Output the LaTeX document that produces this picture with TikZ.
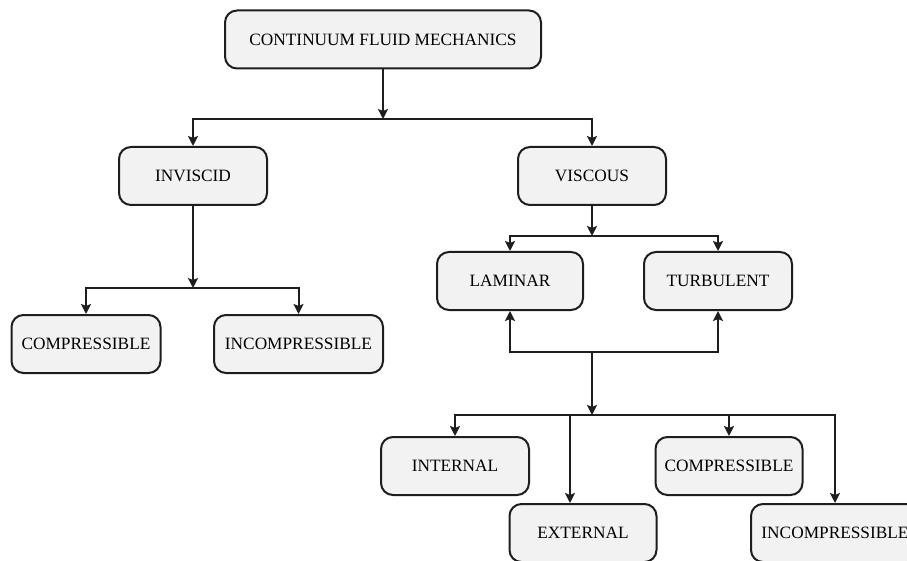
\documentclass[tikz,border=0pt]{standalone}
\usepackage{fontspec}
\setmainfont{Liberation Serif}
\usetikzlibrary{arrows.meta}
\definecolor{boxfill}{RGB}{242,242,242}
\definecolor{edge}{RGB}{30,30,30}
\begin{document}
\begin{tikzpicture}[x=1pt,y=-1pt,
  box/.style={draw=edge, line width=2pt, rounded corners=12pt, fill=boxfill,
    minimum height=58pt, inner sep=0pt, align=center,
    font=\fontsize{17.3}{19}\selectfont},
  conn/.style={draw=edge, line width=2pt},
  arr/.style={conn, -{Stealth[length=10pt,width=10pt,inset=2pt]}}]
\useasboundingbox (0,0) rectangle (907,561);
\fill[white] (0,0) rectangle (907,561);

\node[box, minimum width=316pt] (cfm) at (383,39.5) {CONTINUUM FLUID MECHANICS};
\node[box, minimum width=148pt] (inv) at (193,176) {INVISCID};
\node[box, minimum width=148pt] (visc) at (592,176) {VISCOUS};
\node[box, minimum width=146pt] (lam) at (510,281) {LAMINAR};
\node[box, minimum width=148pt] (turb) at (718,281) {TURBULENT};
\node[box, minimum width=149pt] (compL) at (86,344) {COMPRESSIBLE};
\node[box, minimum width=169pt] (incL) at (298.5,344) {INCOMPRESSIBLE};
\node[box, minimum width=148pt] (intl) at (455,466) {INTERNAL};
\node[box, minimum width=147pt] (compR) at (729,466) {COMPRESSIBLE};
\node[box, minimum width=147pt] (ext) at (583,533) {EXTERNAL};
\node[box, minimum width=168pt] (incR) at (835,533) {INCOMPRESSIBLE};

\coordinate (j1) at (383,119);
\coordinate (j2) at (193,288);
\coordinate (j3) at (592,236);
\coordinate (j4) at (592,352);
\coordinate (j5) at (592,415);

\draw[arr] (cfm.south) -- (j1);
\draw[arr] (j1) -| (inv.north);
\draw[arr] (j1) -| (visc.north);

\draw[arr] (inv.south) -- (j2);
\draw[arr] (j2) -| (compL.north);
\draw[arr] (j2) -| (incL.north);

\draw[arr] (visc.south) -- (j3);
\draw[arr] (j3) -| (lam.north);
\draw[arr] (j3) -| (turb.north);

\draw[arr] (j4) -| (lam.south);
\draw[arr] (j4) -| (turb.south);
\draw[arr] (j4) -- (j5);

\draw[arr] (j5) -| (intl.north);
\draw[arr] (j5) -| ([xshift=-13pt]ext.north);
\draw[arr] (j5) -| (compR.north);
\draw[arr] (j5) -| (incR.north);
\end{tikzpicture}
\end{document}
